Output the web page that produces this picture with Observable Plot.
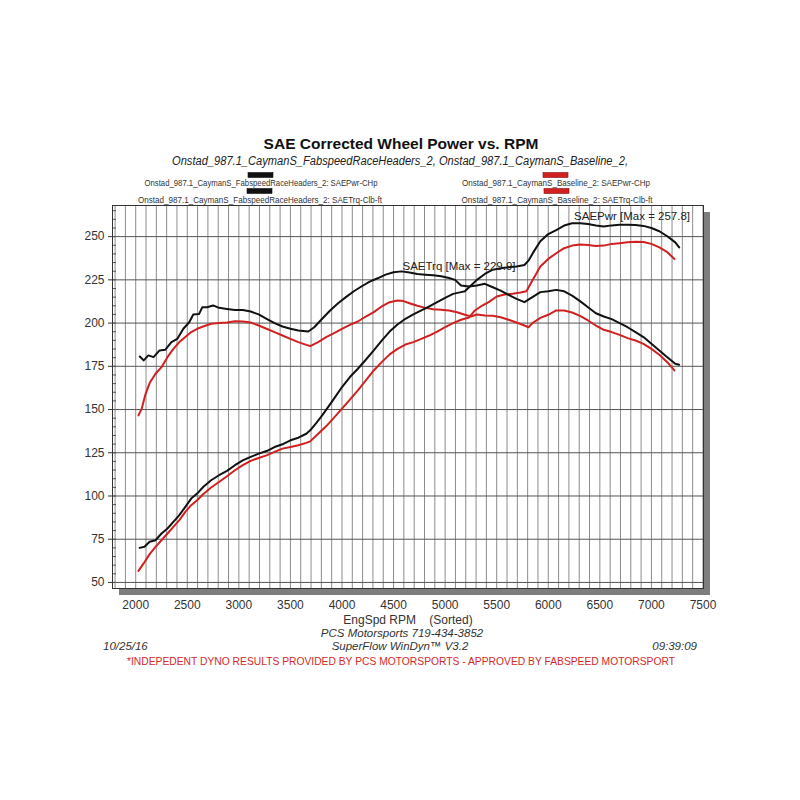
<!DOCTYPE html>
<html><head><meta charset="utf-8">
<script src="https://cdn.jsdelivr.net/npm/d3@7"></script>
<script src="https://cdn.jsdelivr.net/npm/@observablehq/plot@0.6"></script>
<style>body{margin:0;background:#fff;} #chart{width:800px;height:800px;}</style>
</head><body><div id="chart"></div>
<script>
// ---- data (rpm, value) ----
const fabspeedTorque = [[2040,180.7],[2077,178.4],[2123,181.3],[2173,180.3],[2231,184.2],[2288,184.6],[2346,189],[2404,190.9],[2462,196.7],[2519,200.5],[2558,205],[2615,205.3],[2646,209.2],[2692,209.2],[2750,210.2],[2808,208.8],[2885,208.2],[2962,207.6],[3038,207.6],[3115,206.7],[3192,205],[3269,202.5],[3346,200],[3423,198],[3500,196.7],[3577,195.7],[3673,195.1],[3731,197.6],[3808,202.5],[3885,207.3],[3962,211.5],[4038,215],[4115,218.4],[4192,221.3],[4269,224],[4346,225.9],[4423,228],[4500,229.4],[4577,229.9],[4654,229.2],[4731,228.4],[4808,228],[4885,227.7],[4962,227.1],[5038,226.1],[5096,225],[5154,221.7],[5231,221.1],[5308,221.7],[5385,222.7],[5462,220.7],[5538,218.8],[5615,216.3],[5692,214],[5769,212.1],[5846,215],[5923,217.9],[6000,218.4],[6077,219.2],[6154,218.4],[6231,215.9],[6308,212.7],[6385,209.2],[6462,205.7],[6538,203.8],[6615,202.3],[6692,200],[6769,197.6],[6846,194.8],[6923,191.9],[7000,188],[7077,184.2],[7154,180.3],[7231,176.5],[7269,175.9]];
const baselineTorque = [[2027,146.6],[2058,150.5],[2096,159.1],[2135,165.3],[2192,170.7],[2250,174.5],[2308,180.3],[2365,185.1],[2423,189],[2481,191.9],[2538,194.8],[2596,196.7],[2654,198],[2731,199.6],[2808,200.1],[2885,200.3],[2962,201.1],[3038,200.9],[3115,200.3],[3192,198.6],[3269,196.7],[3346,194.8],[3423,192.8],[3500,190.9],[3577,189],[3654,187.4],[3692,186.7],[3769,189],[3846,191.9],[3923,194.2],[4000,196.7],[4077,199],[4154,200.9],[4231,203.8],[4308,206.3],[4385,209.6],[4462,212.1],[4538,213],[4596,212.7],[4654,211.5],[4731,210],[4808,208.8],[4885,208],[4962,207.7],[5038,207.3],[5115,206.3],[5192,204.8],[5250,203.8],[5308,205],[5385,204.4],[5462,204.2],[5538,203.4],[5615,201.9],[5692,200.3],[5769,198.6],[5808,197.6],[5846,200],[5923,203],[6000,204.8],[6077,207.3],[6154,207.3],[6231,206.1],[6308,204.2],[6385,201.5],[6462,198.6],[6538,196.1],[6615,194.8],[6692,193.2],[6769,191.3],[6846,189.9],[6923,188],[7000,185.1],[7077,181.7],[7154,177.4],[7223,172.6]];
const fabspeedPower = [[2038,70],[2085,70.6],[2135,73.5],[2192,74.4],[2250,78.3],[2308,81.2],[2365,85],[2423,88.9],[2481,93.7],[2538,98.5],[2596,101.4],[2654,105.2],[2731,109.1],[2808,112],[2885,114.5],[2962,117.8],[3038,120.6],[3115,122.6],[3192,124.5],[3269,126],[3346,128.3],[3423,129.9],[3500,132.2],[3577,133.7],[3654,136],[3692,138],[3750,142.2],[3808,146.6],[3865,151.4],[3923,156.3],[4000,163],[4077,168.8],[4154,173.6],[4231,178.8],[4308,184.2],[4385,189.9],[4462,195.1],[4538,199.2],[4615,202.5],[4692,205],[4769,207.3],[4846,209.6],[4923,212.1],[5000,214.6],[5077,216.9],[5154,217.9],[5192,218.4],[5250,221.7],[5308,225],[5385,228.4],[5462,230.9],[5538,231.7],[5615,232.3],[5692,232.7],[5769,233.6],[5808,236.1],[5865,241.9],[5923,247.3],[6000,251.5],[6077,253.8],[6154,256.4],[6231,257.7],[6308,257.8],[6385,257.3],[6462,256.4],[6538,255.8],[6615,256.5],[6692,256.9],[6769,256.9],[6846,256.7],[6923,256.2],[7000,255],[7077,253.1],[7154,250.2],[7231,246.7],[7269,243.8]];
const baselinePower = [[2027,56.7],[2077,61],[2135,66.4],[2192,70.6],[2250,74.4],[2308,78.3],[2365,82.1],[2423,86],[2481,90.8],[2538,94.7],[2596,97.5],[2654,101],[2731,104.9],[2808,108.1],[2885,111.4],[2962,114.9],[3038,117.8],[3115,120.3],[3192,122],[3269,123.5],[3346,125.5],[3423,127.4],[3500,128.3],[3577,129.3],[3654,130.7],[3692,131.6],[3769,136],[3846,140.3],[3923,145.3],[4000,150.5],[4077,155.7],[4154,161.1],[4231,166.8],[4308,172.6],[4385,177.4],[4462,181.9],[4538,185.1],[4615,187.6],[4692,189],[4769,190.9],[4846,192.8],[4923,195.1],[5000,197.6],[5077,200],[5154,201.9],[5231,203.2],[5288,207.3],[5346,209.6],[5423,212.1],[5500,215.4],[5577,216.5],[5654,216.9],[5731,217.7],[5788,218.4],[5846,224.6],[5923,232.7],[6000,237.1],[6077,240.4],[6154,243.3],[6231,244.8],[6308,245.4],[6385,245.2],[6462,244.6],[6538,244.8],[6615,245.8],[6692,246.2],[6769,246.7],[6846,247.1],[6923,246.9],[7000,245.8],[7077,243.8],[7154,241],[7223,237.1]];

const xTicks = [2000,2500,3000,3500,4000,4500,5000,5500,6000,6500,7000,7500];
const yTicks = [50,75,100,125,150,175,200,225,250];
const xGrid = d3.range(1800, 7501, 100);
const yMinor = d3.range(50, 266, 5);

const seriesNames = [
  "Onstad_987.1_CaymanS_FabspeedRaceHeaders_2: SAEPwr-CHp",
  "Onstad_987.1_CaymanS_FabspeedRaceHeaders_2: SAETrq-Clb-ft",
  "Onstad_987.1_CaymanS_Baseline_2: SAEPwr-CHp",
  "Onstad_987.1_CaymanS_Baseline_2: SAETrq-Clb-ft"
];
const pwrNote = [{label: "SAEPwr [Max = 257.8]", rpm: 6308, value: 257.8}];
const trqNote = [{label: "SAETrq [Max = 229.9]", rpm: 4577, value: 229.9}];

const BLACK = "#111111", RED = "#d02020";
const W = 800, H = 800, ML = 112, MR = 97, MT = 205, MB = 212;
const plotW = W - ML - MR, plotH = H - MT - MB;
const FONT = "'Liberation Sans', Arial, sans-serif";

const chart = Plot.plot({
  width: W, height: H,
  marginLeft: ML, marginRight: MR, marginTop: MT, marginBottom: MB,
  x: {domain: [1775, 7505], label: null},
  y: {domain: [46.5, 268], label: null},
  style: {fontFamily: FONT, fontSize: "12px", color: "#333", background: "white"},
  marks: [
    Plot.frame({fill: "white", stroke: "none"}),
    Plot.ruleX(xGrid, {stroke: "#8c8c8c", strokeWidth: 1}),
    Plot.ruleY(yTicks, {stroke: "#555", strokeWidth: 1}),
    Plot.tickY(yMinor, {y: d => d, stroke: "#555", insetRight: plotW - 4}),
    Plot.axisY(yTicks, {tickSize: 4, tickPadding: 4, fontSize: 12, stroke: "#333", fill: "#333", tickFormat: d => String(d)}),
    Plot.axisX(xTicks, {tickSize: 0, tickPadding: 12, fontSize: 12, fill: "#333", tickFormat: d => String(d)}),
    Plot.line(baselinePower, {x: d => d[0], y: d => d[1], stroke: RED, strokeWidth: 2}),
    Plot.line(baselineTorque, {x: d => d[0], y: d => d[1], stroke: RED, strokeWidth: 2}),
    Plot.line(fabspeedPower, {x: d => d[0], y: d => d[1], stroke: BLACK, strokeWidth: 2}),
    Plot.line(fabspeedTorque, {x: d => d[0], y: d => d[1], stroke: BLACK, strokeWidth: 2}),
    Plot.text(pwrNote, {x: "rpm", y: "value", text: "label", textAnchor: "start", dx: -6, dy: -7, fontSize: 11.5, fill: "#222"}),
    Plot.text(trqNote, {x: "rpm", y: "value", text: "label", textAnchor: "start", dx: 1, dy: -5, fontSize: 11.5, fill: "#222"}),
    Plot.frame({stroke: "#333", strokeWidth: 1})
  ]
});
document.getElementById("chart").append(chart);

const svg = d3.select(chart);
// drop shadow behind the plot frame
svg.insert("rect", ":first-child")
  .attr("x", ML + 7).attr("y", MT + 7).attr("width", plotW).attr("height", plotH)
  .attr("fill", "#7d7d7d");

function addText(x, y, str, o = {}) {
  const t = svg.append("text")
    .attr("x", x).attr("y", y)
    .attr("text-anchor", o.anchor || "middle")
    .attr("font-family", FONT)
    .attr("font-size", o.size || 11)
    .attr("font-weight", o.weight || "normal")
    .attr("font-style", o.style || "normal")
    .attr("fill", o.fill || "#222")
    .text(str);
  if (o.len) t.attr("textLength", o.len).attr("lengthAdjust", "spacingAndGlyphs");
  return t;
}

addText(401, 149, "SAE Corrected Wheel Power vs. RPM", {size: 15.5, weight: "bold", fill: "#111"});
addText(400, 165, "Onstad_987.1_CaymanS_FabspeedRaceHeaders_2, Onstad_987.1_CaymanS_Baseline_2,", {size: 12.5, style: "italic", len: 456});

// legend
const legend = [
  {name: seriesNames[0], color: BLACK, cx: 261, len: 233, row: 0},
  {name: seriesNames[1], color: BLACK, cx: 260, len: 244, row: 1},
  {name: seriesNames[2], color: RED, cx: 556, len: 188, row: 0},
  {name: seriesNames[3], color: RED, cx: 557, len: 191, row: 1}
];
legend.forEach(l => {
  svg.append("rect").attr("x", l.cx - 13 + (l.color === RED ? 0 : 0)).attr("y", 172.5 + l.row * 16).attr("width", 25).attr("height", 5)
    .attr("fill", l.color).attr("stroke", l.color === RED ? "#8a1010" : BLACK).attr("stroke-width", 0.6);
  addText(l.cx, 186 + l.row * 16.5, l.name, {size: 8.8, fill: "#333", len: l.len});
});

// footer
addText(408, 624, "EngSpd RPM    (Sorted)", {size: 12, fill: "#333"}).style("white-space", "pre");
addText(402, 637, "PCS Motorsports 719-434-3852", {size: 11.5, style: "italic", fill: "#333"});
addText(400, 650, "SuperFlow WinDyn\u2122 V3.2", {size: 11.5, style: "italic", fill: "#333"});
addText(103, 650, "10/25/16", {size: 11.5, style: "italic", anchor: "start", fill: "#333"});
addText(697, 650, "09:39:09", {size: 11.5, style: "italic", anchor: "end", fill: "#333"});
addText(401, 665, "*INDEPEDENT DYNO RESULTS PROVIDED BY PCS MOTORSPORTS - APPROVED BY FABSPEED MOTORSPORT", {size: 11.5, fill: "#d42a2a", len: 548});
</script>
</body></html>
